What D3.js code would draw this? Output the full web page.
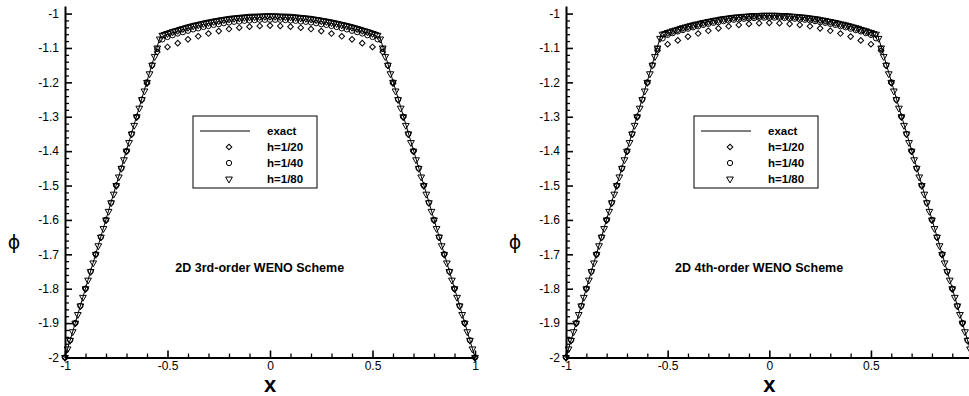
<!DOCTYPE html>
<html>
<head>
<meta charset="utf-8">
<script src="https://cdn.jsdelivr.net/npm/d3@7"></script>
<style>
  body { margin: 0; background: #fff; }
  svg { display: block; font-family: "Liberation Sans", Arial, sans-serif; }
</style>
</head>
<body>
<script>
// exact solution, sampled along x
var exactX = [-1, -0.53, -0.5, -0.45, -0.4, -0.35, -0.3, -0.25, -0.2, -0.15, -0.1, -0.05, 0,
  0.05, 0.1, 0.15, 0.2, 0.25, 0.3, 0.35, 0.4, 0.45, 0.5, 0.53, 1];
var exactPhi = [-2, -1.056, -1.050, -1.041, -1.032, -1.025, -1.018, -1.013, -1.008, -1.005, -1.002, -1.001, -1.000,
  -1.001, -1.002, -1.005, -1.008, -1.013, -1.018, -1.025, -1.032, -1.041, -1.050, -1.056, -2];

// 3rd-order scheme, phi at the mesh nodes (x from -1 to 1)
var phi3_h20 = [-2.000,-1.900,-1.800,-1.700,-1.600,-1.500,-1.400,-1.301,-1.203,-1.112,-1.097,-1.086,-1.075,-1.066,-1.058,-1.051,-1.045,-1.041,-1.038,-1.036,-1.035,
  -1.036,-1.038,-1.041,-1.045,-1.051,-1.058,-1.066,-1.075,-1.086,-1.097,-1.112,-1.203,-1.301,-1.400,-1.500,-1.600,-1.700,-1.800,-1.900,-2.000];
var phi3_h40 = [-2.00,-1.95,-1.90,-1.85,-1.80,-1.75,-1.70,-1.65,-1.60,-1.55,-1.50,-1.45,-1.40,-1.35,-1.30,-1.25,-1.20,-1.15,-1.103,-1.075,-1.068,
  -1.063,-1.058,-1.054,-1.050,-1.046,-1.043,-1.039,-1.036,-1.033,-1.031,-1.028,-1.026,-1.024,-1.023,-1.021,-1.020,-1.019,-1.018,-1.018,-1.018,
  -1.018,-1.018,-1.019,-1.020,-1.021,-1.023,-1.024,-1.026,-1.028,-1.031,-1.033,-1.036,-1.039,-1.043,-1.046,-1.050,-1.054,-1.058,-1.063,-1.068,
  -1.075,-1.103,-1.15,-1.20,-1.25,-1.30,-1.35,-1.40,-1.45,-1.50,-1.55,-1.60,-1.65,-1.70,-1.75,-1.80,-1.85,-1.90,-1.95,-2.00];
var phi3_h80 = [-2.000,-1.975,-1.950,-1.925,-1.900,-1.875,-1.850,-1.825,-1.800,-1.775,-1.750,-1.725,-1.700,-1.675,-1.650,-1.625,-1.600,-1.575,-1.550,-1.525,
  -1.500,-1.475,-1.450,-1.425,-1.400,-1.375,-1.350,-1.325,-1.300,-1.275,-1.250,-1.225,-1.200,-1.175,-1.150,-1.125,-1.100,
  -1.074,-1.063,-1.061,-1.058,-1.056,-1.053,-1.051,-1.049,-1.046,-1.044,-1.042,-1.040,-1.038,-1.036,-1.034,-1.033,-1.031,-1.029,-1.028,-1.026,
  -1.025,-1.023,-1.022,-1.021,-1.019,-1.018,-1.017,-1.016,-1.015,-1.014,-1.013,-1.013,-1.012,-1.011,-1.011,-1.010,-1.010,-1.009,-1.009,-1.009,
  -1.008,-1.008,-1.008,-1.008,
  -1.008,-1.008,-1.008,-1.009,-1.009,-1.009,-1.010,-1.010,-1.011,-1.011,-1.012,-1.013,-1.013,-1.014,-1.015,-1.016,-1.017,-1.018,-1.019,-1.021,
  -1.022,-1.023,-1.025,-1.026,-1.028,-1.029,-1.031,-1.033,-1.034,-1.036,-1.038,-1.040,-1.042,-1.044,-1.046,-1.049,-1.051,-1.053,-1.056,-1.058,
  -1.061,-1.063,-1.074,
  -1.100,-1.125,-1.150,-1.175,-1.200,-1.225,-1.250,-1.275,-1.300,-1.325,-1.350,-1.375,-1.400,-1.425,-1.450,-1.475,-1.500,
  -1.525,-1.550,-1.575,-1.600,-1.625,-1.650,-1.675,-1.700,-1.725,-1.750,-1.775,-1.800,-1.825,-1.850,-1.875,-1.900,-1.925,-1.950,-1.975,-2.000];

// 4th-order scheme
var phi4_h20 = [-2.000,-1.900,-1.800,-1.700,-1.600,-1.500,-1.400,-1.300,-1.202,-1.108,-1.089,-1.078,-1.067,-1.058,-1.050,-1.043,-1.037,-1.033,-1.030,-1.028,-1.027,
  -1.028,-1.030,-1.033,-1.037,-1.043,-1.050,-1.058,-1.067,-1.078,-1.089,-1.108,-1.202,-1.300,-1.400,-1.500,-1.600,-1.700,-1.800,-1.900,-2.000];
var phi4_h40 = [-2.00,-1.95,-1.90,-1.85,-1.80,-1.75,-1.70,-1.65,-1.60,-1.55,-1.50,-1.45,-1.40,-1.35,-1.30,-1.25,-1.20,-1.15,-1.102,-1.072,-1.062,
  -1.057,-1.052,-1.048,-1.044,-1.040,-1.037,-1.033,-1.030,-1.027,-1.025,-1.022,-1.020,-1.018,-1.017,-1.015,-1.014,-1.013,-1.012,-1.012,-1.012,
  -1.012,-1.012,-1.013,-1.014,-1.015,-1.017,-1.018,-1.020,-1.022,-1.025,-1.027,-1.030,-1.033,-1.037,-1.040,-1.044,-1.048,-1.052,-1.057,
  -1.062,-1.072,-1.102,-1.15,-1.20,-1.25,-1.30,-1.35,-1.40,-1.45,-1.50,-1.55,-1.60,-1.65,-1.70,-1.75,-1.80,-1.85,-1.90,-1.95,-2.00];
var phi4_h80 = [-2.000,-1.975,-1.950,-1.925,-1.900,-1.875,-1.850,-1.825,-1.800,-1.775,-1.750,-1.725,-1.700,-1.675,-1.650,-1.625,-1.600,-1.575,-1.550,-1.525,
  -1.500,-1.475,-1.450,-1.425,-1.400,-1.375,-1.350,-1.325,-1.300,-1.275,-1.250,-1.225,-1.200,-1.175,-1.150,-1.125,-1.100,
  -1.072,-1.060,-1.058,-1.055,-1.053,-1.050,-1.048,-1.046,-1.043,-1.041,-1.039,-1.037,-1.035,-1.033,-1.031,-1.030,-1.028,-1.026,-1.025,-1.023,
  -1.022,-1.020,-1.019,-1.018,-1.016,-1.015,-1.014,-1.013,-1.012,-1.011,-1.010,-1.010,-1.009,-1.008,-1.008,-1.007,-1.007,-1.006,-1.006,-1.006,
  -1.005,-1.005,-1.005,-1.005,
  -1.005,-1.005,-1.005,-1.006,-1.006,-1.006,-1.007,-1.007,-1.008,-1.008,-1.009,-1.010,-1.010,-1.011,-1.012,-1.013,-1.014,-1.015,-1.016,-1.018,
  -1.019,-1.020,-1.022,-1.023,-1.025,-1.026,-1.028,-1.030,-1.031,-1.033,-1.035,-1.037,-1.039,-1.041,-1.043,-1.046,-1.048,-1.050,-1.053,-1.055,
  -1.058,-1.060,-1.072,
  -1.100,-1.125,-1.150,-1.175,-1.200,-1.225,-1.250,-1.275,-1.300,-1.325,-1.350,-1.375,-1.400,-1.425,-1.450,-1.475,-1.500,
  -1.525,-1.550,-1.575,-1.600,-1.625,-1.650,-1.675,-1.700,-1.725,-1.750,-1.775,-1.800,-1.825,-1.850,-1.875,-1.900,-1.925,-1.950,-1.975,-2.000];

var xTickVals = [-1, -0.5, 0, 0.5, 1];
var yTickVals = [-2, -1.9, -1.8, -1.7, -1.6, -1.5, -1.4, -1.3, -1.2, -1.1, -1];
var legendLabels = ["exact", "h=1/20", "h=1/40", "h=1/80"];

var W = 969, H = 396;
var svg = d3.select("body").append("svg").attr("width", W).attr("height", H);

//marker shapes
var diamond = d3.symbol(d3.symbolSquare, 16);
var circle = d3.symbol(d3.symbolCircle, 22);
var triangle = d3.symbol(d3.symbolTriangle, 20);

function nodes(arr) {
  var n = arr.length;
  return arr.map(function (v, i) { return [-1 + 2 * i / (n - 1), v]; });
}

function panel(left, right, title, s20, s40, s80, xLabels) {
  var x = d3.scaleLinear().domain([-1, 1]).range([left, right]);
  var y = d3.scaleLinear().domain([-2, -0.978]).range([357.5, 6]);
  var g = svg.append("g");

  // minor ticks
  var yMinor = d3.range(-1.98, -0.999, 0.02).filter(function (v) { return Math.abs(v * 10 - Math.round(v * 10)) > 0.01; });
  var xMinor = d3.range(-0.9, 1.0, 0.1).filter(function (v) { return Math.abs(v * 2 - Math.round(v * 2)) > 0.01; });

  g.append("g").attr("transform", "translate(" + left + ",0)")
    .call(d3.axisLeft(y).tickValues(yMinor).tickFormat("").tickSize(-4))
    .call(function (a) { a.select(".domain").remove(); })
    .selectAll("line").attr("stroke-width", 1.3);
  g.append("g").attr("transform", "translate(0,357.5)")
    .call(d3.axisBottom(x).tickValues(xMinor).tickFormat("").tickSize(-4))
    .call(function (a) { a.select(".domain").remove(); })
    .selectAll("line").attr("stroke-width", 1.3);

  var ya = g.append("g").attr("transform", "translate(" + left + ",0)")
    .call(d3.axisLeft(y).tickValues(yTickVals).tickFormat(function (d) { return String(+d.toFixed(1)); })
      .tickSize(-7).tickSizeOuter(0).tickPadding(6));
  ya.select(".domain").attr("stroke-width", 2);
  ya.selectAll("line").attr("stroke-width", 1.6);
  ya.selectAll("text").attr("font-size", 12).attr("fill", "#000");

  var xa = g.append("g").attr("transform", "translate(0,357.5)")
    .call(d3.axisBottom(x).tickValues(xLabels).tickFormat(function (d) { return String(d); })
      .tickSize(-7).tickSizeOuter(0).tickPadding(4));
  xa.select(".domain").attr("stroke-width", 2);
  xa.selectAll("line").attr("stroke-width", 1.6);
  xa.selectAll("text").attr("font-size", 12).attr("fill", "#000");

  // exact line
  var line = d3.line().x(function (d) { return x(d[0]); }).y(function (d) { return y(d[1]); });
  g.append("path").datum(exactX.map(function (v, i) { return [v, exactPhi[i]]; }))
    .attr("d", line).attr("fill", "none").attr("stroke", "#000").attr("stroke-width", 1);

  function marks(data, sym, rot) {
    g.append("g").selectAll("path").data(nodes(data)).join("path")
      .attr("d", sym)
      .attr("transform", function (d) { return "translate(" + x(d[0]) + "," + y(d[1]) + ") rotate(" + rot + ")"; })
      .attr("fill", "none").attr("stroke", "#000").attr("stroke-width", 1);
  }
  marks(s20, diamond, 45);
  marks(s40, circle, 0);
  marks(s80, triangle, 180);

  // axis titles
  g.append("text").attr("x", x(0)).attr("y", 392).attr("text-anchor", "middle")
    .attr("font-size", 22).attr("font-weight", "bold").text("x");
  g.append("text").attr("x", left - 51).attr("y", 249).attr("text-anchor", "middle")
    .attr("font-family", "DejaVu Sans").attr("font-size", 19).text("ϕ");

  // scheme label
  g.append("text").attr("x", x(-0.05)).attr("y", 272).attr("text-anchor", "middle")
    .attr("font-size", 12.5).attr("font-weight", "bold").text(title);

  // legend
  var lx = left + 128, ly = 116;
  g.append("rect").attr("x", lx).attr("y", ly).attr("width", 124).attr("height", 72)
    .attr("fill", "#fff").attr("stroke", "#000").attr("stroke-width", 1);
  var rows = [131, 147, 163, 179];
  g.append("line").attr("x1", lx + 7).attr("x2", lx + 57).attr("y1", rows[0]).attr("y2", rows[0])
    .attr("stroke", "#000").attr("stroke-width", 1);
  [[diamond, 45], [circle, 0], [triangle, 180]].forEach(function (s, i) {
    g.append("path").attr("d", s[0])
      .attr("transform", "translate(" + (lx + 36) + "," + rows[i + 1] + ") rotate(" + s[1] + ")")
      .attr("fill", "none").attr("stroke", "#000").attr("stroke-width", 1);
  });
  legendLabels.forEach(function (t, i) {
    g.append("text").attr("x", lx + 74).attr("y", rows[i] + 4).attr("font-size", 11.5)
      .attr("font-weight", "bold").text(t);
  });
}

panel(65, 475, "2D 3rd-order WENO Scheme", phi3_h20, phi3_h40, phi3_h80, xTickVals);
panel(566, 972.6, "2D 4th-order WENO Scheme", phi4_h20, phi4_h40, phi4_h80, xTickVals.slice(0, 4));
</script>
</body>
</html>
